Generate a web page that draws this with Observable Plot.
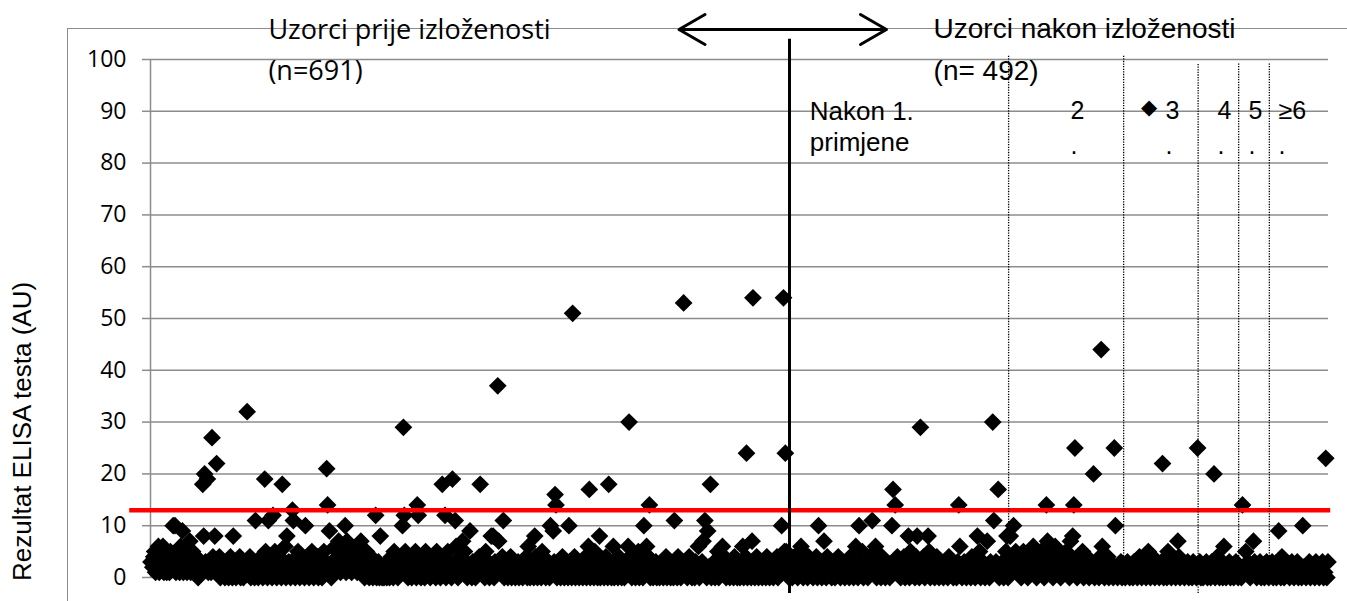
<!DOCTYPE html>
<html><head><meta charset="utf-8">
<script src="https://cdn.jsdelivr.net/npm/d3@7"></script>
<script src="https://cdn.jsdelivr.net/npm/@observablehq/plot@0.6"></script>
<style>
html,body{margin:0;padding:0;background:#fff;overflow:hidden;}
#wrap{position:relative;width:1347px;height:601px;overflow:hidden;}
#frame{position:absolute;left:67px;top:28px;width:1400px;height:700px;border-left:1.5px solid #8c8c8c;border-top:1.5px solid #8c8c8c;}
#chart{position:absolute;left:0;top:0;}
</style></head><body>
<div id="wrap"><div id="frame"></div><div id="chart"></div></div>
<script>
// ---- data ----
const yTicks = [0,10,20,30,40,50,60,70,80,90,100];
const cutoff = 13;
const beforeN = 691;
const afterN = 492;
const yLabel = "Rezultat ELISA testa (AU)";
const beforeTitle = "Uzorci prije izloženosti\n(n=691)";
const afterTitle = "Uzorci nakon izloženosti\n(n= 492)";
const afterGroupSizes = [200,105,68,37,28,54];
const firstGroupLabel = "Nakon 1.\nprimjene";
const afterGroupLabels = ["2\n.","3\n.","4\n.","5\n.","≥6\n."];
const firstGroupLabelSample = 710;
const afterGroupLabelSample = [948,1034.7,1082.2,1110.5,1137.9];

// low-level results, one per sample (before exposure)
const beforeBand = [
3,1,2,4,5,1,3,2,6,1, 4,2,3,5,1,2,4,1,3,2, 1,5,2,3,1,4,2,1,3,5, 2,1,6,2,4,1,3,2,5,1, 2,4,3,1,2,5,1,3,2,4,
1,0,2,3,1,2,0,4,1,3, 2,0,1,3,2,1,0,4,2,1, 3,0,2,1,4,0,1,2,3,1, 0,2,1,3,0,2,4,1,0,3, 2,1,0,2,3,1,4,0,2,1,
0,2,1,3,0,1,2,4,0,1, 3,2,0,5,1,2,0,3,1,4, 2,0,1,3,5,2,0,1,4,2, 3,0,1,2,5,1,0,3,2,4, 1,0,2,3,1,6,0,2,1,3,
2,0,3,1,4,2,0,1,3,5, 2,0,4,1,2,3,0,1,2,4, 1,0,3,2,5,1,0,2,3,1, 4,0,2,1,3,0,2,5,1,3, 0,2,1,4,2,0,3,1,2,6,
3,5,2,7,4,1,6,3,2,5, 4,1,7,3,2,6,4,1,5,3, 2,4,6,1,3,5,2,7,1,4, 3,0,2,5,1,3,0,2,4,1, 0,3,1,2,0,1,3,0,2,1,
0,1,0,2,1,0,3,1,0,2, 4,1,0,5,2,1,3,0,2,1, 4,3,0,1,2,5,1,3,0,2, 4,1,0,3,2,1,5,0,2,1, 3,4,0,2,1,3,0,5,2,1,
3,1,0,2,4,1,3,2,0,5, 1,2,3,0,1,4,2,3,1,0, 2,5,1,3,2,0,4,1,2,3, 6,1,0,2,4,3,1,0,2,5, 1,3,0,2,1,4,2,0,3,1,
2,0,1,3,2,4,0,1,2,3, 1,0,5,2,1,3,0,2,4,1, 2,0,3,1,2,5,0,1,3,2, 4,1,0,2,1,3,0,2,1,4, 0,3,2,1,0,2,1,3,0,1,
2,1,0,3,1,2,4,0,1,2, 0,3,1,2,0,1,4,2,0,3, 1,2,0,5,1,3,2,0,1,2, 3,0,4,1,2,0,3,1,2,0, 1,3,2,0,1,4,2,0,1,3,
1,0,2,3,1,0,2,1,4,0, 2,3,1,0,2,1,3,0,1,2, 4,0,1,3,2,0,1,2,3,0, 5,1,2,0,3,1,0,2,1,3, 0,2,4,1,0,3,1,2,0,1,
2,0,1,3,2,0,4,1,2,0, 3,1,0,2,1,3,0,2,4,1, 0,2,3,1,0,2,1,5,0,3, 1,2,0,1,3,2,0,1,4,2, 0,3,1,0,2,1,3,0,2,1,
0,2,1,3,0,1,2,4,0,1, 3,2,0,1,2,0,3,1,2,0, 4,1,3,0,2,1,0,3,2,1, 0,2,4,1,3,0,2,1,0,3, 1,2,5,0,1,2,3,0,1,2,
1,0,3,2,1,4,0,2,1,3, 0,2,1,5,0,3,1,2,0,1, 4,2,0,3,1,2,0,1,3,2, 0,4,1,2,0,3,1,0,2,1, 3,0,2,4,1,0,2,3,1,0,
2,1,3,0,2,4,1,0,3,2, 1,0,2,3,1,0,4,2,1,0, 3,1,2,0,1,3,2,4,0,1, 2,3,0,1,2,5,0,3,1,2, 0
];
// higher results before exposure: sample number and value
const beforeOutSample = [2,14,25,27,35,43,57,58,59,62,67,70,72,90,105,114,124,128,133,143,148,154,155,168,191,192,194,211,244,249,273,274,275,289,290,316,319,327,330,338,346,357,369,371,376,377,382,409,416,433,436,438,439,453,457,474,475,486,496,501,517,518,534,537,540,567,577,593,598,600,603,606,619,641,645,651,652,683,685,687,688];
const beforeOutValue  = [3,6,10,10,9,7,18,8,20,19,27,8,22,8,32,11,19,11,12,18,8,13,11,10,21,14,9,10,12,8,10,29,12,14,12,18,12,19,11,7,9,18,8,8,37,7,11,6,8,10,9,16,14,10,51,6,17,8,18,6,6,30,10,6,14,11,53,6,7,11,9,18,6,6,24,7,54,10,54,24,5];

// low-level results, one per sample (after exposure)
const afterBand = [
1,3,0,2,4,1,2,0,3,1, 2,5,0,1,3,2,0,4,1,2, 3,0,1,2,4,0,3,1,2,0, 1,3,2,0,4,1,2,3,0,1, 2,0,3,1,4,2,0,1,3,2,
0,1,2,3,0,4,1,2,0,3, 1,2,0,1,3,2,5,0,1,2, 3,0,1,4,2,0,3,1,2,0, 1,2,3,0,4,1,2,0,3,1, 2,0,1,3,5,2,0,1,4,2,
3,0,1,2,4,0,1,3,2,0, 5,1,2,3,0,4,1,2,0,3, 1,2,4,0,1,3,2,5,0,1, 2,3,0,1,4,2,0,3,1,2, 0,1,3,2,0,4,1,2,3,0,
1,2,0,3,1,4,2,0,1,3, 2,0,1,2,3,0,4,1,2,0, 3,1,2,5,0,1,3,2,0,1, 4,2,0,3,1,2,0,1,3,2, 4,0,1,2,3,0,1,5,2,0,
1,3,2,4,0,2,5,1,3,4, 2,0,3,5,1,2,4,0,3,1, 5,2,4,1,3,0,2,4,1,5, 3,2,0,4,1,3,5,2,1,4, 0,3,2,5,1,4,2,0,3,1,
4,2,5,1,3,0,2,4,1,3, 5,2,0,4,1,3,2,5,0,1, 3,4,2,0,1,3,2,4,0,1, 2,3,0,4,1,2,3,0,1,2, 4,0,3,1,2,0,3,1,2,0,
1,2,3,0,1,2,0,1,3,2, 0,1,2,0,3,1,2,0,1,4, 2,0,1,3,2,0,1,2,3,0, 1,4,2,0,3,1,2,0,1,3, 2,0,1,2,0,3,1,2,0,1,
3,2,0,1,2,4,0,1,3,2, 0,1,2,3,0,1,2,0,3,1, 2,0,1,2,3,0,1,0,2,1, 3,0,2,1,0,3,1,2,0,1, 4,2,0,1,3,0,2,1,0,2,
1,3,0,2,1,0,2,3,1,0, 1,2,0,3,1,2,0,1,3,2, 0,1,2,0,3,1,0,2,1,3, 0,1,2,0,1,3,2,0,1,2, 3,0,1,2,0,1,3,2,0,1,
2,0,1,3,2,1,0,2,3,1, 0,2,1,3,0,2,1,0,3,2, 1,0,2,1,3,0,2,1,2,0, 3,1,2,0,1,2,3,0,1,2, 0,3
];
const afterOutSample = [702,718,723,752,755,767,770,785,786,788,800,808,811,818,819,846,847,863,872,877,878,882,890,893,896,914,926,927,934,948,950,951,952,969,976,977,988,989,1019,1032,1037,1046,1064,1079,1088,1105,1108,1115,1138,1141,1160,1181];
const afterOutValue  = [6,10,7,6,10,11,6,10,17,14,8,8,29,8,5,14,6,8,7,30,11,17,8,8,10,6,14,7,6,7,8,14,25,20,44,6,25,10,5,22,5,7,25,20,6,14,5,7,9,4,10,23];

// ---- build table ----
const divider = beforeN + 0.5;
// the two sample blocks occupy different widths of the axis (before: 639 units, after: 539 units)
const beforeSpan = 639, afterSpan = 539;
const posOf = s => s <= divider
  ? (s - 0.5) * beforeSpan / beforeN
  : beforeSpan + (s - divider) * afterSpan / afterN;

function build(band, outS, outV, offset) {
  const m = new Map(outS.map((s, i) => [s, outV[i]]));
  return band.map((v, i) => {
    const s = offset + i + 1;
    return {sample: s, pos: posOf(s), value: m.has(s) ? m.get(s) : v};
  });
}
const data = build(beforeBand, beforeOutSample, beforeOutValue, 0)
  .concat(build(afterBand, afterOutSample, afterOutValue, beforeN));

const separators = [];
{ let acc = divider; for (const s of afterGroupSizes.slice(0, -1)) { acc += s; separators.push(acc); } }
const sepTop = [100.8, 100.8, 99.2, 99.2, 99.2];
const sepBottom = [-1.5, -1.5, -3.1, -1.5, -1.5];

const arial = "'Liberation Sans', Arial, sans-serif";
const chart = Plot.plot({
  width: 1347, height: 601,
  marginLeft: 150, marginRight: 19, marginTop: 59, marginBottom: 24,
  style: {fontFamily: "'Open Sans', sans-serif", fontSize: "23px", background: "transparent", overflow: "visible", color: "black"},
  x: {domain: [0, beforeSpan + afterSpan], axis: null},
  y: {domain: [0, 100], axis: null},
  marks: [
    Plot.gridY(yTicks, {stroke: "#8c8c8c", strokeOpacity: 1, strokeWidth: 1.5}),
    Plot.axisY(yTicks, {tickSize: 8, tickPadding: 16, stroke: "#8c8c8c", strokeWidth: 1.5, fill: "black", label: null, fontSize: 23}),
    Plot.ruleX([{x: posOf(0.5), y1: 0, y2: 100}], {x: "x", y1: "y1", y2: "y2", stroke: "#8c8c8c", strokeWidth: 1.5}),
    Plot.dot(data, {x: "pos", y: "value", symbol: "diamond2", r: 8, fill: "black", stroke: "none"}),
    Plot.ruleY([{y: cutoff, x1: posOf(-22), x2: posOf(1185.5)}], {y: "y", x1: "x1", x2: "x2", stroke: "#ff0000", strokeWidth: 4.5}),
    Plot.ruleX([{x: posOf(divider), y1: -3.1, y2: 103.9}], {x: "x", y1: "y1", y2: "y2", stroke: "black", strokeWidth: 3}),
    Plot.ruleX(separators.map((s, i) => ({x: posOf(s), y1: sepBottom[i], y2: sepTop[i]})), {x: "x", y1: "y1", y2: "y2", stroke: "black", strokeWidth: 1.3, strokeDasharray: "1.3,1.3"}),
    Plot.arrow([{x1: posOf(684), x2: posOf(572)}, {x1: posOf(684), x2: posOf(780)}], {x1: "x1", x2: "x2", y1: () => 105.8, y2: () => 105.8, stroke: "black", strokeWidth: 3, headLength: 15, headAngle: 60, bend: false}),
    Plot.text([{x: posOf(128), y: 95.95, t: beforeTitle}], {x: "x", y: "y", text: "t", textAnchor: "start", lineAnchor: "bottom", lineHeight: 1.55, fontSize: 27, fontFamily: "'Open Sans', sans-serif", fill: "black"}),
    Plot.text([{x: posOf(823), y: 95.95, t: afterTitle}], {x: "x", y: "y", text: "t", textAnchor: "start", lineAnchor: "bottom", lineHeight: 1.53, fontSize: 28, fontFamily: arial, fill: "black"}),
    Plot.text([{x: posOf(firstGroupLabelSample), y: 82.4, t: firstGroupLabel}], {x: "x", y: "y", text: "t", textAnchor: "start", lineAnchor: "bottom", lineHeight: 1.17, fontSize: 26, fontFamily: arial, fill: "black"}),
    Plot.text(afterGroupLabels.map((t, i) => ({x: posOf(afterGroupLabelSample[i]), y: 81.7, t})), {x: "x", y: "y", text: "t", textAnchor: "start", lineAnchor: "bottom", lineHeight: 1.4, fontSize: 25, fontFamily: arial, fill: "black"}),
    Plot.text([{x: posOf(1019.7), y: 90.7, t: "◆"}], {x: "x", y: "y", text: "t", textAnchor: "middle", lineAnchor: "middle", fontSize: 21, fontFamily: "'DejaVu Sans', sans-serif", fill: "black"}),
    Plot.text([{x: -128, y: 28.2, t: yLabel}], {x: "x", y: "y", text: "t", rotate: -90, textAnchor: "middle", lineAnchor: "middle", fontSize: 26, fontFamily: arial, fill: "black"})
  ]
});
document.getElementById("chart").appendChild(chart);
</script>
</body></html>
